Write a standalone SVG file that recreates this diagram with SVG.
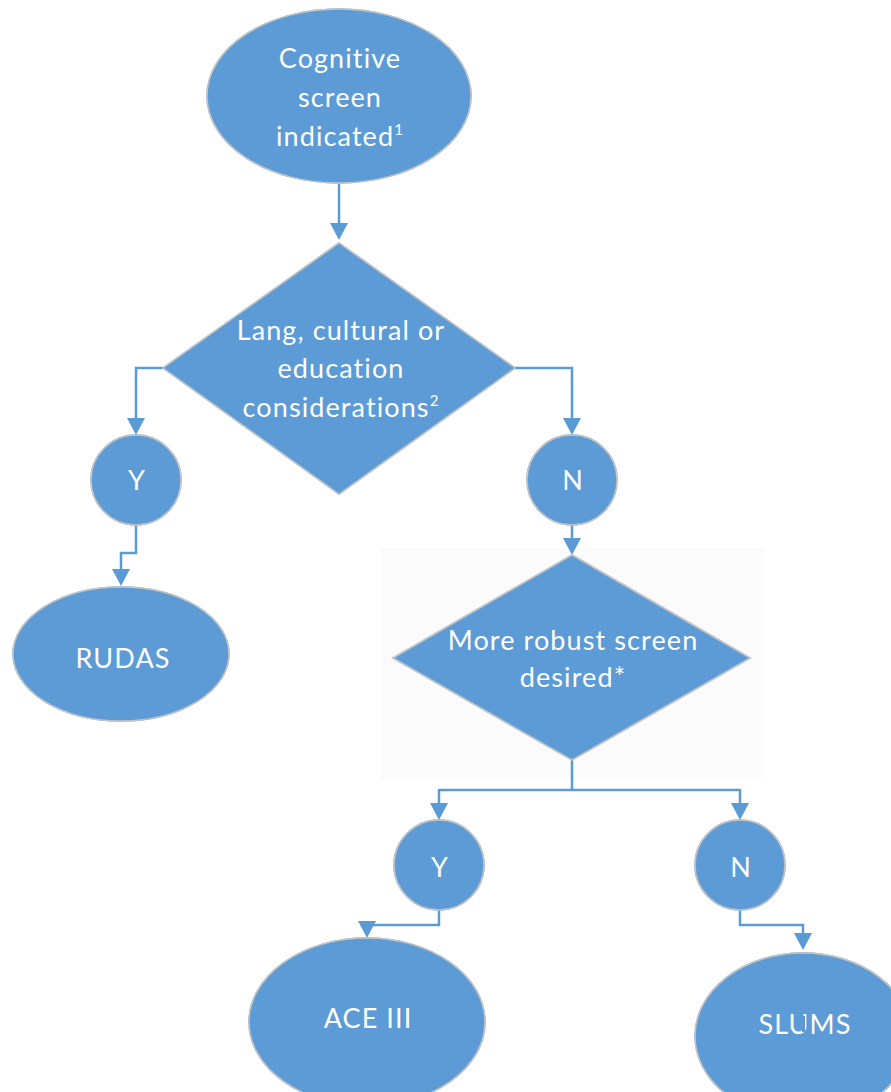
<svg xmlns="http://www.w3.org/2000/svg" width="891" height="1092" viewBox="0 0 891 1092">
<defs>
<style>
.shape{fill:#5b9bd5;stroke:#c4c4c4;stroke-width:1.5;filter:url(#glow)}
.lbl{fill:#ffffff;font-family:Lato,"Open Sans","Liberation Sans",sans-serif;font-size:27px;letter-spacing:1.1px;text-anchor:middle}
.conn{fill:none;stroke:#5b9bd5;stroke-width:2.5}
.ah{fill:#5b9bd5}
</style>
<filter id="glow" x="-10%" y="-10%" width="120%" height="125%">
<feGaussianBlur in="SourceAlpha" stdDeviation="3"/>
<feOffset dx="0" dy="3"/>
<feComponentTransfer><feFuncA type="linear" slope="0.12"/></feComponentTransfer>
<feFlood flood-color="#5b9bd5"/>
<feComposite operator="in" in2="SourceAlpha"/>
<feMerge><feMergeNode/><feMergeNode in="SourceGraphic"/></feMerge>
</filter>
</defs>
<rect x="0" y="0" width="891" height="1092" fill="#ffffff"/>
<rect x="381" y="548" width="383" height="231" fill="#fbfbfb"/>

<g id="connectors">
<path class="conn" d="M339,184 V223"/><path class="ah" d="M330,223 L348,223 L339,240 Z"/>
<path class="conn" d="M163,368 H136 V418"/><path class="ah" d="M127,418 L145,418 L136,435 Z"/>
<path class="conn" d="M515,368 H572 V418"/><path class="ah" d="M563,418 L581,418 L572,435 Z"/>
<path class="conn" d="M136,525 V553 H121 V570"/><path class="ah" d="M112,569 L130,569 L121,586 Z"/>
<path class="conn" d="M572,525 V538"/><path class="ah" d="M563,538 L581,538 L572,555 Z"/>
<path class="conn" d="M572,760 V790 M439,790 H740 M439,789 V804 M740,789 V804"/>
<path class="ah" d="M430,803 L448,803 L439,820 Z"/><path class="ah" d="M731,803 L749,803 L740,820 Z"/>
<path class="conn" d="M439,910 V925 H367 V922"/><path class="ah" d="M358,921 L376,921 L367,938 Z"/>
<path class="conn" d="M740,910 V925 H803 V934"/><path class="ah" d="M794,933 L812,933 L803,950 Z"/>
</g>

<g id="start">
<ellipse class="shape" cx="339" cy="96" rx="132" ry="87"/>
<text class="lbl" x="340" y="68">Cognitive</text>
<text class="lbl" x="340" y="107">screen</text>
<text class="lbl" x="340" y="146">indicated<tspan font-size="15" dy="-11">1</tspan></text>
</g>

<g id="decision1">
<polygon class="shape" points="339,243 515,368 339,494 163,368"/>
<text class="lbl" x="341" y="340">Lang, cultural or</text>
<text class="lbl" x="341" y="378">education</text>
<text class="lbl" x="341" y="417">considerations<tspan font-size="15" dy="-11">2</tspan></text>
</g>

<g id="yes1">
<circle class="shape" cx="136" cy="480" r="45"/>
<text class="lbl" x="137" y="490">Y</text>
</g>

<g id="no1">
<circle class="shape" cx="572" cy="480" r="45"/>
<text class="lbl" x="573" y="490">N</text>
</g>

<g id="rudas">
<ellipse class="shape" cx="121" cy="654" rx="108" ry="67"/>
<text class="lbl" x="123" y="668">RUDAS</text>
</g>

<g id="decision2">
<polygon class="shape" points="572,555 750,658 572,760 393,658"/>
<text class="lbl" x="573" y="650">More robust screen</text>
<text class="lbl" x="573" y="687">desired*</text>
</g>

<g id="yes2">
<circle class="shape" cx="439" cy="865" r="45"/>
<text class="lbl" x="440" y="877">Y</text>
</g>

<g id="no2">
<circle class="shape" cx="740" cy="865" r="45"/>
<text class="lbl" x="741" y="877">N</text>
</g>

<g id="ace">
<ellipse class="shape" cx="367" cy="1022" rx="118" ry="84"/>
<text class="lbl" x="368" y="1028">ACE III</text>
</g>

<g id="slums">
<ellipse class="shape" cx="803" cy="1036" rx="108" ry="83"/>
<text class="lbl" x="805" y="1034">SLUMS</text>
<path d="M803.5,1016 V1032" stroke="#5b9bd5" stroke-width="3"/>
</g>
</svg>
